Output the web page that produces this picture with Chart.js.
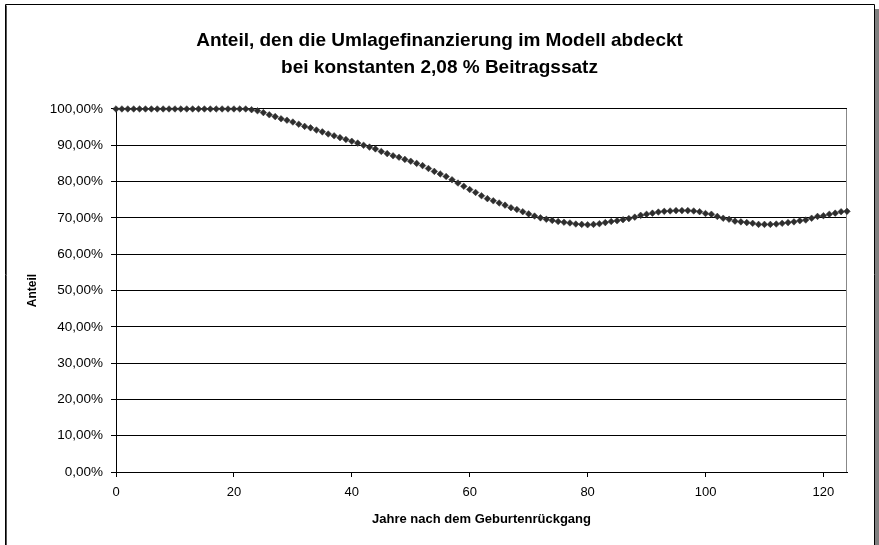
<!DOCTYPE html>
<html>
<head>
<meta charset="utf-8">
<script src="https://cdn.jsdelivr.net/npm/chart.js@4.4.1/dist/chart.umd.min.js"></script>
<style>
  html, body { margin: 0; padding: 0; background: #fff; }
  #wrap { width: 879px; height: 545px; }
</style>
</head>
<body>
<div id="wrap"><canvas id="anteilChart" width="879" height="545"></canvas></div>
<script>
// Anteil (%) for each year after the birth decline, year 0 .. 124
const anteil = [
  100, 100, 100, 100, 100, 100, 100, 100, 100, 100,
  100, 100, 100, 100, 100, 100, 100, 100, 100, 100,
  100, 100, 100, 99.8, 99.5, 99.0, 98.4, 97.9, 97.3, 96.9,
  96.4, 95.8, 95.2, 94.8, 94.2, 93.7, 93.1, 92.6, 92.1, 91.6,
  91.1, 90.6, 90.0, 89.5, 89.0, 88.3, 87.7, 87.1, 86.7, 86.1,
  85.6, 85.0, 84.4, 83.6, 82.8, 82.1, 81.4, 80.5, 79.6, 78.7,
  77.8, 77.0, 76.1, 75.3, 74.7, 74.1, 73.5, 72.8, 72.3, 71.7,
  71.1, 70.5, 70.0, 69.6, 69.3, 69.0, 68.8, 68.6, 68.3, 68.2,
  68.1, 68.2, 68.4, 68.7, 69.0, 69.2, 69.5, 69.8, 70.2, 70.7,
  71.0, 71.3, 71.6, 71.8, 71.9, 72.0, 72.0, 72.0, 71.9, 71.7,
  71.2, 71.0, 70.4, 69.9, 69.6, 69.1, 68.9, 68.7, 68.5, 68.2,
  68.2, 68.2, 68.3, 68.5, 68.7, 68.9, 69.2, 69.4, 69.9, 70.4,
  70.6, 71.0, 71.3, 71.7, 71.8
];
const firstYear = 0;
const xTicks = [0, 20, 40, 60, 80, 100, 120];
const yTicks = [0, 10, 20, 30, 40, 50, 60, 70, 80, 90, 100];
const titleLines = ['Anteil, den die Umlagefinanzierung im Modell abdeckt', 'bei konstanten 2,08 % Beitragssatz'];

const points = anteil.map((v, i) => ({ x: firstYear + i, y: v }));
const fontFamily = '"Liberation Sans", Arial, sans-serif';

// white page, outer frame with shadow, grey right edge of the plot
const framePlugin = {
  id: 'frame',
  afterLayout(chart) {
    // title is centred on the whole page, not only left of the right padding
    if (chart.titleBlock) {
      chart.titleBlock.left = 0;
      chart.titleBlock.right = chart.width;
      chart.titleBlock.width = chart.width;
    }
  },
  beforeDraw(chart) {
    const ctx = chart.ctx;
    ctx.save();
    ctx.fillStyle = '#ffffff';
    ctx.fillRect(0, 0, chart.width, chart.height);
    ctx.fillStyle = '#808080';
    ctx.fillRect(875, 9, 4, chart.height - 9);
    ctx.strokeStyle = '#000';
    ctx.lineWidth = 1;
    ctx.beginPath();
    ctx.moveTo(5.5, chart.height);
    ctx.lineTo(5.5, 4.5);
    ctx.lineTo(874.5, 4.5);
    ctx.lineTo(874.5, chart.height);
    ctx.stroke();
    ctx.strokeStyle = '#555';
    ctx.beginPath();
    ctx.moveTo(6.5, chart.height);
    ctx.lineTo(6.5, 5.5);
    ctx.stroke();
    ctx.restore();
  },
  beforeDatasetsDraw(chart) {
    const { ctx, chartArea } = chart;
    ctx.save();
    ctx.strokeStyle = '#888';
    ctx.lineWidth = 1;
    ctx.beginPath();
    ctx.moveTo(Math.round(chartArea.right) - 0.5, chartArea.top);
    ctx.lineTo(Math.round(chartArea.right) - 0.5, chartArea.bottom);
    ctx.stroke();
    ctx.restore();
  }
};

const ctx = document.getElementById('anteilChart').getContext('2d');
new Chart(ctx, {
  type: 'line',
  data: {
    datasets: [{
      label: 'Anteil',
      data: points,
      showLine: false,
      pointStyle: 'rectRot',
      pointRadius: 3.3,
      pointBackgroundColor: '#2e2e2e',
      pointBorderColor: '#2e2e2e',
      pointBorderWidth: 0.5,
      clip: false
    }]
  },
  options: {
    responsive: false,
    animation: false,
    layout: { padding: { left: 0, right: 32, top: 0, bottom: 0 } },
    plugins: {
      legend: { display: false },
      tooltip: { enabled: false },
      title: {
        display: true,
        text: titleLines,
        color: '#000',
        font: { family: fontFamily, size: 19, weight: 'bold', lineHeight: 1.42 },
        padding: { top: 27, bottom: 28 }
      }
    },
    scales: {
      x: {
        type: 'linear',
        min: 0,
        max: 124,
        afterBuildTicks(scale) { scale.ticks = xTicks.map(v => ({ value: v })); },
        afterFit(scale) { scale.height = 73; },
        grid: { drawOnChartArea: false, drawTicks: true, tickLength: 5, color: '#000' },
        border: { display: true, color: '#000', width: 1 },
        ticks: {
          color: '#000',
          padding: 8,
          maxRotation: 0,
          font: { family: fontFamily, size: 13 }
        },
        title: {
          display: true,
          text: 'Jahre nach dem Geburtenrückgang',
          color: '#000',
          font: { family: fontFamily, size: 13, weight: 'bold' },
          padding: { top: 0, bottom: 18 }
        }
      },
      y: {
        min: 0,
        max: 100,
        afterBuildTicks(scale) { scale.ticks = yTicks.map(v => ({ value: v })); },
        afterFit(scale) { scale.width = 116; },
        grid: { drawOnChartArea: true, drawTicks: true, tickLength: 5, color: '#000', lineWidth: 1 },
        border: { display: true, color: '#000', width: 1 },
        ticks: {
          color: '#000',
          padding: 8,
          font: { family: fontFamily, size: 13.5 },
          callback: v => v.toFixed(2).replace('.', ',') + '%'
        },
        title: {
          display: true,
          text: 'Anteil',
          color: '#000',
          font: { family: fontFamily, size: 12, weight: 'bold' },
          padding: { top: 25, bottom: 0 }
        }
      }
    }
  },
  plugins: [framePlugin]
});
</script>
</body>
</html>
